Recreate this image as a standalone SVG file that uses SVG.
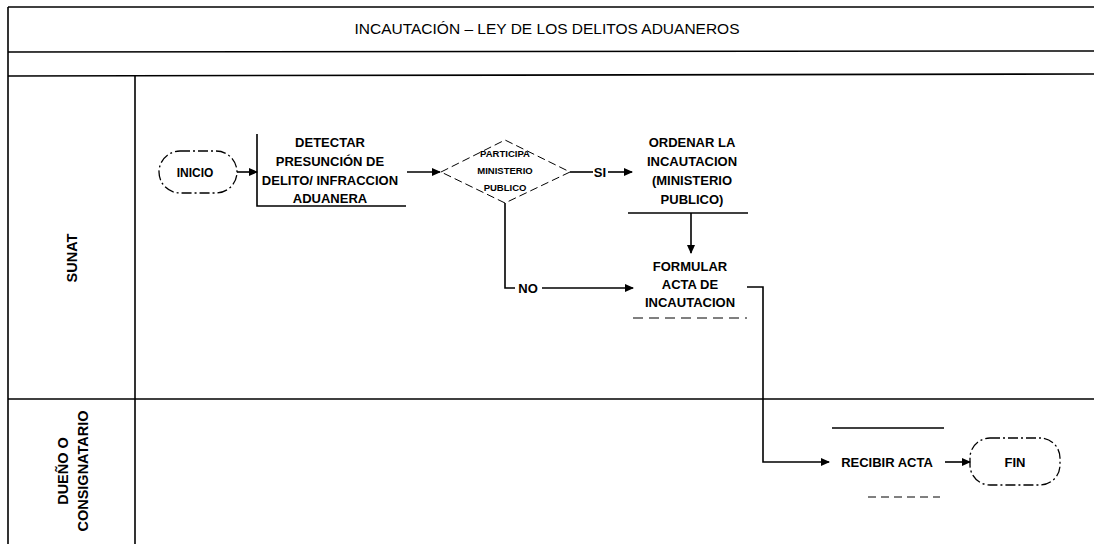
<svg xmlns="http://www.w3.org/2000/svg" width="1094" height="544" viewBox="0 0 1094 544">
<style>
.ln{stroke:#000;stroke-width:1.6;fill:none}
.t{font-family:"Liberation Sans",Arial,sans-serif;font-weight:bold;fill:#000;text-anchor:middle}
.n{font-size:13px}
.lane{font-size:14.5px}
.s{font-size:9.5px}
.title{font-family:"Liberation Sans",Arial,sans-serif;font-size:15.5px;fill:#000;text-anchor:middle}
.term{fill:none;stroke:#000;stroke-width:1.3;stroke-dasharray:10 3 2 3}
</style>
<defs>
<marker id="ah" markerWidth="9" markerHeight="8" refX="8" refY="4" orient="auto" markerUnits="userSpaceOnUse">
<path d="M0,0 L9,4 L0,8 Z" fill="#000"/>
</marker>
</defs>
<rect width="1094" height="544" fill="#fff"/>
<g id="frame">
<line class="ln" x1="8" y1="7" x2="1094" y2="7"/>
<line class="ln" x1="8" y1="52" x2="1094" y2="51"/>
<line class="ln" x1="8" y1="76" x2="1094" y2="74"/>
<line class="ln" x1="8" y1="399" x2="1094" y2="399"/>
<line class="ln" x1="8" y1="7" x2="8" y2="544"/>
<line class="ln" x1="135" y1="76" x2="135" y2="544"/>
<text class="title" x="547" y="34">INCAUTACIÓN – LEY DE LOS DELITOS ADUANEROS</text>
</g>
<g id="lane-sunat">
<text class="t lane" transform="translate(77,258) rotate(-90)">SUNAT</text>
</g>
<g id="lane-dueno">
<text class="t lane" transform="translate(68,471) rotate(-90)">DUEÑO O</text>
<text class="t lane" transform="translate(88,471) rotate(-90)">CONSIGNATARIO</text>
</g>
<g id="inicio">
<rect class="term" x="159" y="151" width="78" height="42" rx="21"/>
<text class="t" x="195" y="177" font-size="12px">INICIO</text>
</g>
<g id="detectar">
<path class="ln" d="M257,134 V206 H406" stroke-width="1.2"/>
<text class="t n" x="330" y="147">DETECTAR</text>
<text class="t n" x="330" y="166">PRESUNCIÓN DE</text>
<text class="t n" x="330" y="185">DELITO/ INFRACCION</text>
<text class="t n" x="330" y="203">ADUANERA</text>
</g>
<g id="decision">
<path d="M441,172 L505,140 L570,172 L505,203 Z" fill="none" stroke="#000" stroke-width="1" stroke-dasharray="8 4"/>
<text class="t s" x="505" y="157">PARTICIPA</text>
<text class="t s" x="505" y="174">MINISTERIO</text>
<text class="t s" x="505" y="191">PUBLICO</text>
</g>
<g id="ordenar">
<line class="ln" x1="628" y1="213" x2="748" y2="213" stroke-width="1.2"/>
<text class="t n" x="692" y="147">ORDENAR LA</text>
<text class="t n" x="692" y="166">INCAUTACION</text>
<text class="t n" x="692" y="185">(MINISTERIO</text>
<text class="t n" x="692" y="204">PUBLICO)</text>
</g>
<g id="formular">
<line x1="633" y1="318" x2="747" y2="318" stroke="#000" stroke-width="1" stroke-dasharray="10 6"/>
<text class="t n" x="690" y="271">FORMULAR</text>
<text class="t n" x="690" y="289">ACTA DE</text>
<text class="t n" x="690" y="307">INCAUTACION</text>
</g>
<g id="recibir">
<line class="ln" x1="832" y1="428" x2="944" y2="428" stroke-width="1.2"/>
<line x1="868" y1="497" x2="940" y2="497" stroke="#000" stroke-width="1" stroke-dasharray="8 5"/>
<text class="t n" x="887" y="467">RECIBIR ACTA</text>
</g>
<g id="fin">
<rect class="term" x="970" y="438" width="90" height="47" rx="20"/>
<text class="t n" x="1015" y="467">FIN</text>
</g>
<g id="connectors">
<line class="ln" x1="237" y1="172" x2="257" y2="172" marker-end="url(#ah)"/>
<line class="ln" x1="407" y1="172" x2="440" y2="172" marker-end="url(#ah)"/>
<line class="ln" x1="570" y1="172" x2="593" y2="172"/>
<text class="t n" x="600" y="177">SI</text>
<line class="ln" x1="608" y1="172" x2="632" y2="172" marker-end="url(#ah)"/>
<line class="ln" x1="691" y1="213" x2="691" y2="253" marker-end="url(#ah)"/>
<path class="ln" d="M505,203 V288 H515"/>
<text class="t n" x="528" y="293">NO</text>
<line class="ln" x1="542" y1="288" x2="633" y2="288" marker-end="url(#ah)"/>
<path class="ln" d="M747,287 H763 V462 H829" marker-end="url(#ah)"/>
<line class="ln" x1="945" y1="462" x2="970" y2="462" marker-end="url(#ah)"/>
</g>
</svg>
